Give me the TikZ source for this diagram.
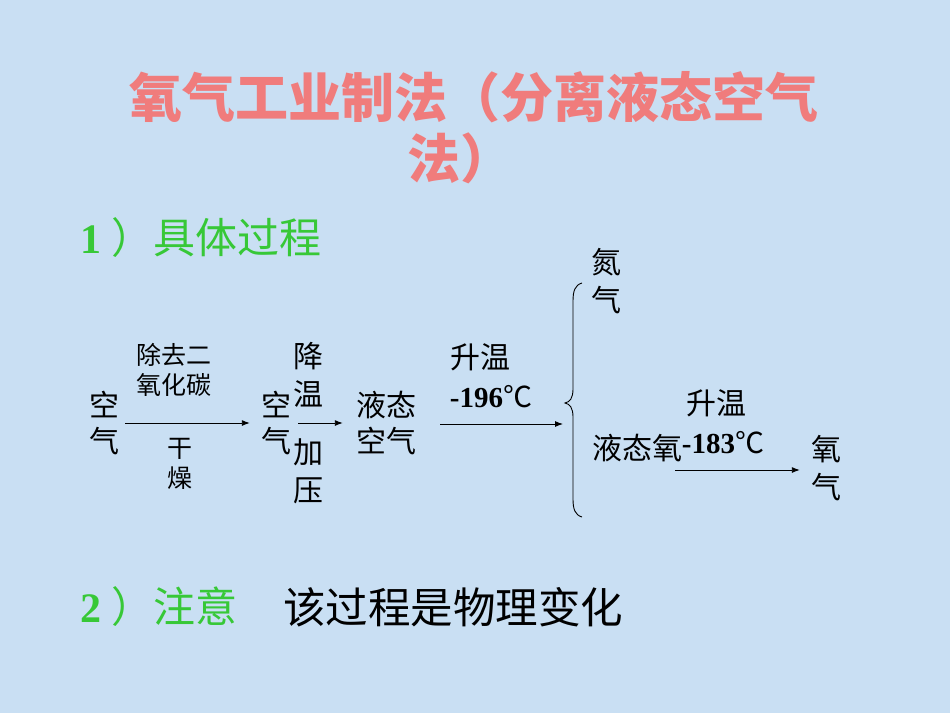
\documentclass[tikz,border=0pt]{standalone}
\usepackage{fontspec}
\setmainfont{Liberation Serif}
\newfontfamily\cjk{Noto Sans CJK SC}
\usetikzlibrary{arrows.meta}
\definecolor{bgblue}{RGB}{201,223,243}
\definecolor{titlepink}{RGB}{240,124,124}
\definecolor{headgreen}{RGB}{55,200,55}
\begin{document}
\begin{tikzpicture}[x=1pt,y=-1pt,
  titletext/.style={inner sep=0pt, text=titlepink, font=\cjk\bfseries\fontsize{53}{60}\selectfont},
  headtext/.style={inner sep=0pt, anchor=west, font=\fontsize{42}{48}\selectfont},
  lbl/.style={inner sep=0pt, align=center, font=\cjk\fontsize{30}{36}\selectfont},
  lbltall/.style={inner sep=0pt, align=center, font=\cjk\fontsize{30}{38}\selectfont},
  small/.style={inner sep=0pt, align=center, font=\cjk\fontsize{25}{30}\selectfont},
  numtext/.style={inner sep=0pt, font=\fontsize{29}{34}\selectfont},
  flow/.style={-{Latex[length=8pt,width=6pt]}, line width=0.9pt},
  bracepath/.style={line width=0.9pt}]
\fill[bgblue] (0,0) rectangle (950,713);
\useasboundingbox (0,0) rectangle (950,713);

% title
\node[titletext] (t1) at (474,97) {氧气工业制法（分离液态空气};
\node[titletext, anchor=west] (t2) at (407,158) {法）};

% headings
\node[headtext, text=headgreen] (h1) at (80,238) {{\bfseries 1} {\cjk\mdseries ）具体过程}};
\node[headtext, text=headgreen] (h2) at (80,607) {{\bfseries 2} {\cjk\mdseries ）注意}};
\node[headtext, font=\cjk\fontsize{42.5}{48}\selectfont] (h2b) at (283,607) {该过程是物理变化};

% flow
\node[lbl] (air1) at (104,423) {空\\气};
\node[small] (remove) at (174,370) {除去二\\氧化碳};
\node[small] (dry) at (180,464) {干\\燥};
\node[lbl] (air2) at (276,423) {空\\气};
\node[lbltall] (cool) at (308,375) {降\\温};
\node[lbltall] (press) at (308,471) {加\\压};
\node[lbl] (liq) at (386,423) {液态\\空气};
\node[lbl] (heat1) at (480,357) {升温};
\node[numtext] (t196) at (491,397) {\bfseries -196{\cjk\mdseries ℃}};

\node[lbltall] (n2) at (606,281) {氮\\气};
\node[lbl] (lox) at (637,448) {液态氧};
\node[lbl] (heat2) at (716,403) {升温};
\node[numtext] (t183) at (723,443) {\bfseries -183{\cjk\mdseries ℃}};
\node[lbltall] (oxy) at (826,468) {氧\\气};

\coordinate (bracetop) at (582,283);
\coordinate (bracetip) at (565,403);
\coordinate (bracebot) at (582,517);
\coordinate (a3end) at (563,424);
\coordinate (a4start) at (675,470);

\draw[flow, shorten <=6pt, shorten >=11pt] (air1) -- (air2);
\draw[flow, shorten <=7pt, shorten >=13pt] (air2) -- (liq);
\draw[flow, shorten <=24pt] (liq.east |- a3end) -- (a3end);
\draw[flow, shorten >=11pt] (a4start) -- (a4start -| oxy.west);

\draw[bracepath] (bracetop) .. controls (575,285) and (573,291) .. (573,301)
  -- (573,389) .. controls (573,398) and (570,402) .. (bracetip)
  .. controls (570,404) and (573,408) .. (573,417)
  -- (573,499) .. controls (573,509) and (575,515) .. (bracebot);
\end{tikzpicture}
\end{document}
